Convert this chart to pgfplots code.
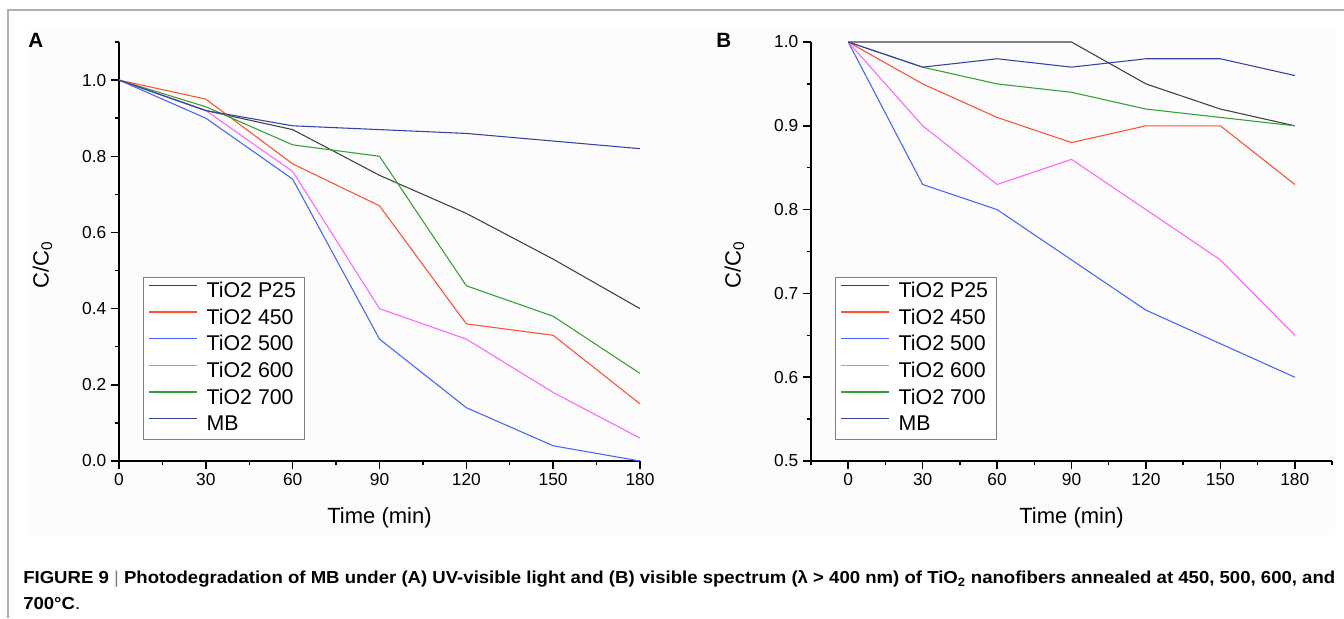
\documentclass[border=0pt]{standalone}
\usepackage{fontspec}
\setmainfont{Liberation Sans}
\usepackage{pgfplots}
\pgfplotsset{compat=1.18}
\usepackage{graphicx}

\definecolor{colPtwentyfive}{RGB}{64,64,64}
\definecolor{colFourfifty}{RGB}{255,80,50}
\definecolor{colFivehundred}{RGB}{70,100,255}
\definecolor{colSixhundred}{RGB}{255,100,255}
\definecolor{colSevenhundred}{RGB}{50,160,50}
\definecolor{colMB}{RGB}{55,65,165}
\definecolor{framec}{RGB}{175,175,175}

\pgfplotsset{
 panel/.style={
  scale only axis, width=390.75pt, height=314.25pt, anchor=south west,
  axis x line=bottom, axis y line=left,
  axis line style={-, line width=1.5pt, black},
  tick align=outside, major tick length=6pt, minor tick length=3pt,
  every tick/.style={black, line width=1.1pt},
  tick label style={font=\fontsize{13}{15}\selectfont},
  /pgf/number format/assume math mode=true,
  yticklabel style={/pgf/number format/fixed, /pgf/number format/fixed zerofill, /pgf/number format/precision=1},
  label style={font=\fontsize{16.5}{19}\selectfont},
  xlabel={Time (min)}, ylabel={C/C\textsubscript{0}},
  xlabel style={at={(axis description cs:0.5,-0.136)}, anchor=center},
  ylabel style={at={(axis description cs:-0.147,0.468)}, anchor=center},
  xtick={0,30,60,90,120,150,180},
  legend cell align=left,
  legend style={at={(0.046,0.439)}, anchor=north west, draw=gray, line width=0.75pt, fill=white,
    font=\fontsize{16}{19}\selectfont, inner xsep=4pt, inner ysep=1.5pt, row sep=1.5pt,
    nodes={inner xsep=2.5pt, inner ysep=1.5pt, text height=12pt, text depth=3.5pt}},
  legend image code/.code={\draw[#1, line width=1pt] (0pt,5pt) -- (36pt,5pt); \path (40pt,5pt);},
  every axis plot/.append style={line width=0.8pt, mark=none},
  clip=false,
 }
}

\newsavebox\capbox
\begin{document}
\sbox\capbox{\bfseries\fontsize{13}{15}\selectfont FIGURE 9 {\mdseries\color{gray}|} Photodegradation of MB under (A) UV-visible light and (B) visible spectrum (λ > 400 nm) of TiO\textsubscript{2} nanofibers annealed at 450, 500, 600, and}%
\pgfmathsetmacro\capscale{984/\wd\capbox}%
\begin{tikzpicture}
\path[use as bounding box] (0,0) rectangle (1008pt,-463.5pt);
\fill[black!1] (20.25pt,-22.5pt) rectangle (1001.25pt,-401.25pt);
\draw[framec, line width=1.5pt] (6pt,-463.5pt) -- (6pt,-7.5pt) -- (1008pt,-7.5pt);

\node[anchor=base west, inner sep=0pt, font=\bfseries\fontsize{15.5}{18}\selectfont] at (21pt,-35.25pt) {A};
\node[anchor=base west, inner sep=0pt, font=\bfseries\fontsize{15.5}{18}\selectfont] at (537pt,-35.25pt) {B};

\begin{axis}[panel, at={(89.25pt,-345.75pt)},
  xmin=0, xmax=180, ymin=0, ymax=1.1,
  ytick={0,0.2,0.4,0.6,0.8,1.0},
  minor xtick={15,45,75,105,135,165},
  minor ytick={0.1,0.3,0.5,0.7,0.9,1.1}]
\addplot[color=colPtwentyfive] coordinates {(0,1.0) (30,0.92) (60,0.87) (90,0.75) (120,0.65) (150,0.53) (180,0.40)};
\addlegendentry{TiO2 P25}
\addplot[color=colFourfifty] coordinates {(0,1.0) (30,0.95) (60,0.78) (90,0.67) (120,0.36) (150,0.33) (180,0.15)};
\addlegendentry{TiO2 450}
\addplot[color=colFivehundred] coordinates {(0,1.0) (30,0.90) (60,0.74) (90,0.32) (120,0.14) (150,0.04) (180,0.0)};
\addlegendentry{TiO2 500}
\addplot[color=colSixhundred] coordinates {(0,1.0) (30,0.92) (60,0.76) (90,0.40) (120,0.32) (150,0.18) (180,0.06)};
\addlegendentry{TiO2 600}
\addplot[color=colSevenhundred] coordinates {(0,1.0) (30,0.93) (60,0.83) (90,0.80) (120,0.46) (150,0.38) (180,0.23)};
\addlegendentry{TiO2 700}
\addplot[color=colMB] coordinates {(0,1.0) (30,0.92) (60,0.88) (90,0.87) (120,0.86) (150,0.84) (180,0.82)};
\addlegendentry{MB}
\end{axis}

\begin{axis}[panel, at={(608.25pt,-345.75pt)},
  xmin=-15, xmax=195, ymin=0.5, ymax=1.0,
  ytick={0.5,0.6,0.7,0.8,0.9,1.0},
  minor xtick={-15,15,45,75,105,135,165,195},
  minor ytick={0.55,0.65,0.75,0.85,0.95}]
\addplot[color=colPtwentyfive] coordinates {(0,1.0) (30,1.0) (60,1.0) (90,1.0) (120,0.95) (150,0.92) (180,0.90)};
\addlegendentry{TiO2 P25}
\addplot[color=colFourfifty] coordinates {(0,1.0) (30,0.95) (60,0.91) (90,0.88) (120,0.90) (150,0.90) (180,0.83)};
\addlegendentry{TiO2 450}
\addplot[color=colFivehundred] coordinates {(0,1.0) (30,0.83) (60,0.80) (90,0.74) (120,0.68) (150,0.64) (180,0.60)};
\addlegendentry{TiO2 500}
\addplot[color=colSixhundred] coordinates {(0,1.0) (30,0.90) (60,0.83) (90,0.86) (120,0.80) (150,0.74) (180,0.65)};
\addlegendentry{TiO2 600}
\addplot[color=colSevenhundred] coordinates {(0,1.0) (30,0.97) (60,0.95) (90,0.94) (120,0.92) (150,0.91) (180,0.90)};
\addlegendentry{TiO2 700}
\addplot[color=colMB] coordinates {(0,1.0) (30,0.97) (60,0.98) (90,0.97) (120,0.98) (150,0.98) (180,0.96)};
\addlegendentry{MB}
\end{axis}

\node[anchor=base west, inner sep=0pt] at (17.25pt,-437.5pt) {\scalebox{\capscale}[1]{\usebox\capbox}};
\node[anchor=base west, inner sep=0pt] at (17.25pt,-457pt) {\scalebox{\capscale}[1]{\bfseries\fontsize{13}{15}\selectfont 700°C{\mdseries .}}};
\end{tikzpicture}
\end{document}
